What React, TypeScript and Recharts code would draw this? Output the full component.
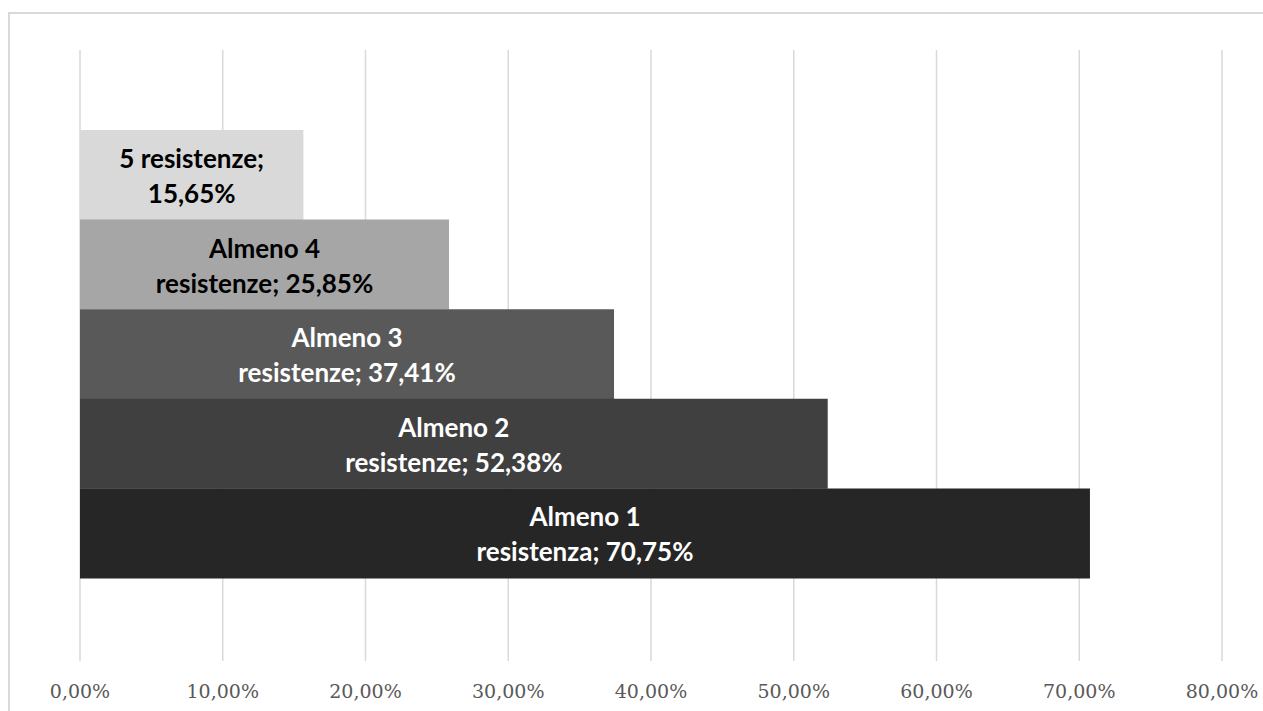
import React from 'react';
import { BarChart, Bar, XAxis, YAxis, CartesianGrid, Cell, LabelList } from 'recharts';

// categories, top to bottom
const categories = [
  '5 resistenze',
  'Almeno 4 resistenze',
  'Almeno 3 resistenze',
  'Almeno 2 resistenze',
  'Almeno 1 resistenza',
];

// share of isolates (%)
const shares = [15.65, 25.85, 37.41, 52.38, 70.75];

const xTicks = [0, 10, 20, 30, 40, 50, 60, 70, 80];

const barColors = ['#d9d9d9', '#a6a6a6', '#595959', '#404040', '#262626'];
const labelColors = ['#000000', '#000000', '#ffffff', '#ffffff', '#ffffff'];

const data = categories.map((name, i) => ({ name, value: shares[i] }));

const fmtPct = (v: number) => v.toFixed(2).replace('.', ',') + '%';

// split the label the way the original wraps it
const labelLines = (name: string, value: number) => {
  if (name.startsWith('Almeno')) {
    const words = name.split(' ');
    return [words.slice(0, 2).join(' '), words.slice(2).join(' ') + '; ' + fmtPct(value)];
  }
  return [name + ';', fmtPct(value)];
};

const renderLabel = (props: any) => {
  const { x, y, width, height, index } = props;
  const cx = Number(x) + Number(width) / 2;
  const cy = Number(y) + Number(height) / 2;
  const [l1, l2] = labelLines(categories[index], shares[index]);
  const common = {
    textAnchor: 'middle' as const,
    fill: labelColors[index],
    fontFamily: 'Lato, "Open Sans", sans-serif',
    fontWeight: 700,
    fontSize: 26,
  };
  return (
    <g>
      <text x={cx} y={cy - 7} {...common}>{l1}</text>
      <text x={cx} y={cy + 28} {...common}>{l2}</text>
    </g>
  );
};

const App = () => {
  return (
    <div
      style={{
        position: 'absolute',
        left: 8,
        top: 12,
        width: 1255,
        height: 699,
        boxSizing: 'border-box',
        borderTop: '2px solid #d9d9d9',
        borderLeft: '2px solid #d9d9d9',
        background: '#fff',
        overflow: 'hidden',
      }}
    >
      <BarChart
        width={1253}
        height={697}
        data={data}
        layout="vertical"
        barCategoryGap={0}
        margin={{ top: 36, right: 41, left: 70, bottom: 0 }}
      >
        <CartesianGrid horizontal={false} stroke="#d9d9d9" strokeWidth={1.5} />
        <XAxis
          type="number"
          domain={[0, 80]}
          ticks={xTicks}
          tickFormatter={fmtPct}
          axisLine={false}
          tickLine={false}
          tickMargin={18}
          height={50}
          tick={{ fill: '#595959', fontSize: 19, fontFamily: '"DejaVu Serif", serif' }}
        />
        <YAxis
          type="category"
          dataKey="name"
          hide
          padding={{ top: 80, bottom: 83 }}
        />
        <Bar dataKey="value" isAnimationActive={false}>
          {data.map((d, i) => (
            <Cell key={d.name} fill={barColors[i]} />
          ))}
          <LabelList dataKey="value" content={renderLabel} />
        </Bar>
      </BarChart>
    </div>
  );
};

export default App;
